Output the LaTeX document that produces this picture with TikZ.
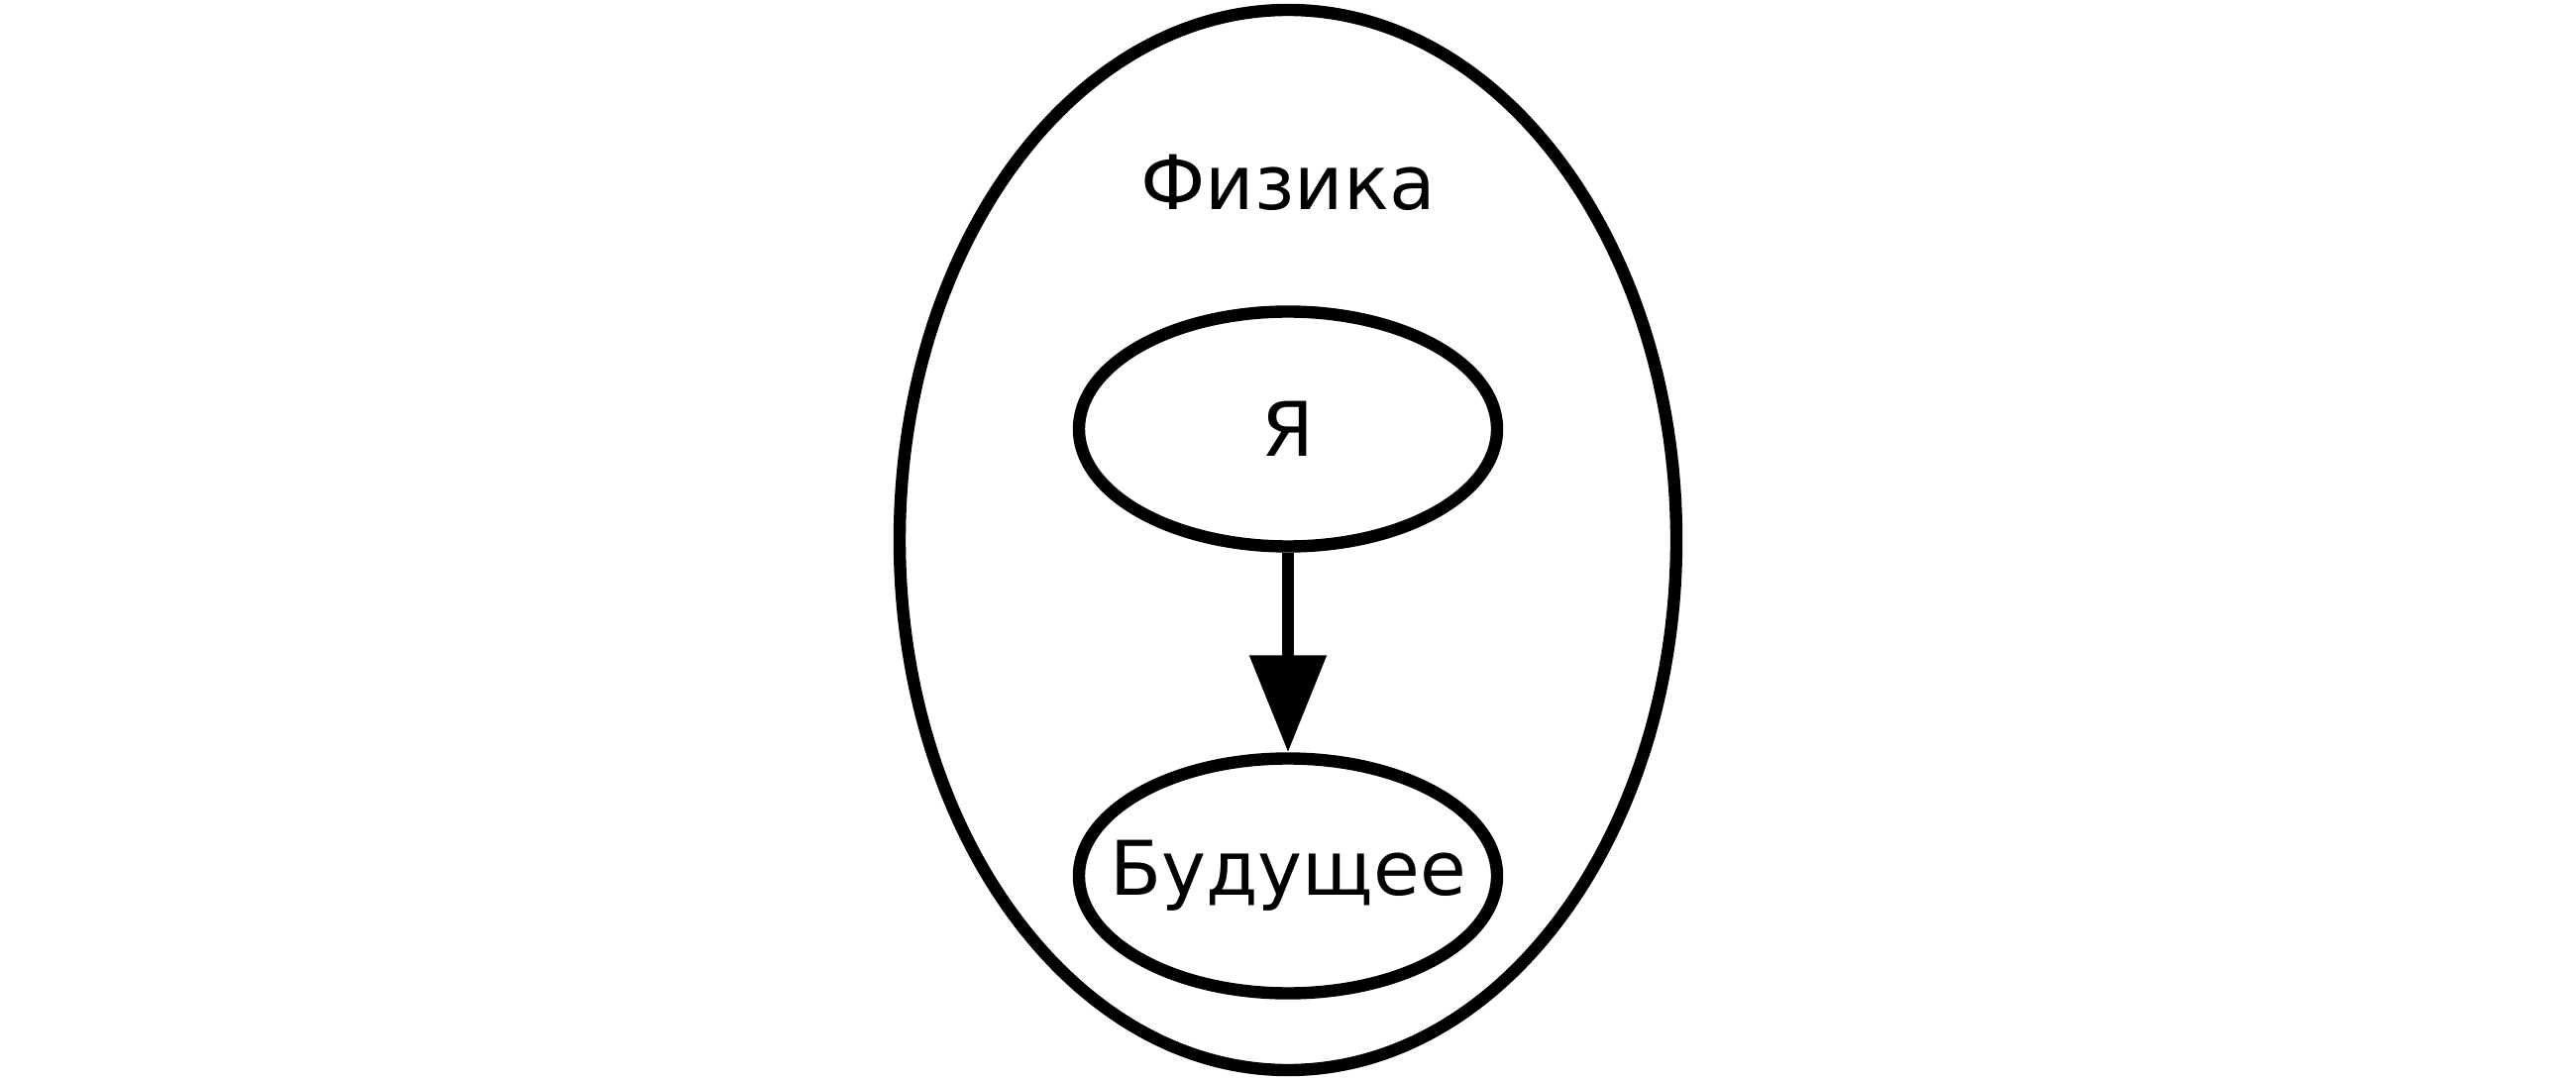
\documentclass[tikz,border=0pt]{standalone}
\usepackage{fontspec}
\setmainfont{DejaVu Sans}
\usetikzlibrary{shapes.geometric,arrows.meta}
\newcommand\zerowidth[1]{\makebox[0pt]{#1}}
\begin{document}
\begin{tikzpicture}[x=0.25pt,y=-0.25pt,
  every node/.style={font=\fontsize{19}{23}\selectfont},
  oval/.style={draw=black,line width=3.1pt,ellipse,inner sep=0pt,minimum width=105.5pt,minimum height=59.25pt},
  cluster/.style={draw=black,line width=3.1pt,ellipse,inner sep=0pt,minimum width=196pt,minimum height=267.5pt},
  edge/.style={draw=black,line width=3.2pt,-{Triangle[length=24.5pt,width=18.7pt]}}]
\useasboundingbox (0,0) rectangle (2600,1090);
\node[cluster] (fiz) at (1300,545) {};
\node (fizlabel) at (1300,184) {Физика};
\node[oval] (ya) at (1300,433) {\zerowidth{Я}};
\node[oval] (bud) at (1300,884) {\zerowidth{Будущее}};
\draw[edge] (ya) -- (bud);
\end{tikzpicture}
\end{document}
